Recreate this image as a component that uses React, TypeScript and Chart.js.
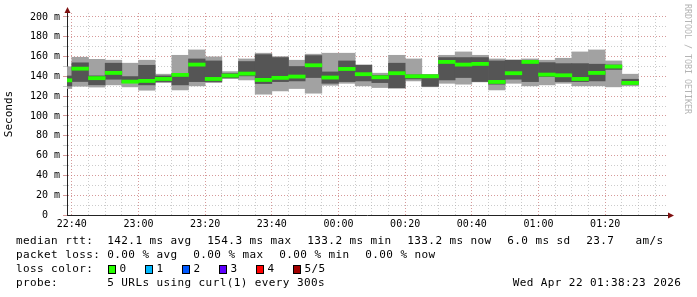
import React, { useEffect, useRef } from "react";
import { Chart, registerables } from "chart.js";

Chart.register(...registerables);

// ---- data (5-minute slots, start times) ----
const slotStarts = [
  "22:35", "22:40", "22:45", "22:50", "22:55", "23:00", "23:05", "23:10", "23:15", "23:20",
  "23:25", "23:30", "23:35", "23:40", "23:45", "23:50", "23:55", "00:00", "00:05",
  "00:10", "00:15", "00:20", "00:25", "00:30", "00:35", "00:40", "00:45", "00:50",
  "00:55", "01:00", "01:05", "01:10", "01:15", "01:20", "01:25",
];
const pingMin = [
  127.7, 130.0, 129.2, 131.4, 129.4, 126.0, 133.7, 126.3, 130.4, 133.7,
  137.8, 136.4, 122.0, 125.3, 127.7, 123.0, 131.0, 133.0, 130.4,
  128.7, 128.0, 135.4, 129.5, 133.0, 132.1, 134.4, 126.3, 133.0,
  130.4, 131.4, 133.0, 130.4, 130.4, 129.4, 130.4,
];
const pingLow = [
  130.3, 134.8, 131.5, 137.1, 133.7, 131.4, 134.7, 131.4, 134.7, 134.7,
  138.5, 140.5, 132.7, 134.7, 135.4, 138.8, 133.0, 134.7, 135.4,
  133.7, 128.5, 137.4, 130.0, 136.4, 138.8, 134.8, 132.1, 137.1,
  134.7, 139.8, 134.7, 134.7, 135.4, 147.0, 132.1,
];
const pingMedian = [
  136.0, 147.8, 138.2, 143.5, 134.7, 135.4, 137.4, 141.5, 151.9, 137.4,
  140.8, 142.8, 136.4, 138.5, 139.8, 151.2, 138.8, 147.5, 142.2,
  139.1, 143.2, 140.1, 140.1, 154.6, 151.9, 152.6, 134.4, 143.2,
  154.6, 141.8, 141.1, 137.4, 143.5, 149.9, 133.4,
];
const pingHigh = [
  140.4, 153.7, 140.5, 153.3, 139.8, 151.2, 140.5, 142.5, 157.6, 155.6,
  142.8, 155.0, 162.0, 159.0, 150.0, 161.0, 144.5, 155.6, 151.2,
  141.1, 153.3, 141.5, 141.5, 159.0, 159.0, 159.0, 155.6, 156.3,
  155.6, 153.9, 152.9, 152.9, 152.3, 151.5, 137.1,
];
const pingMax = [
  149.7, 159.3, 157.2, 156.3, 153.3, 156.3, 142.2, 161.3, 166.7, 159.7,
  144.8, 157.6, 163.4, 160.0, 156.3, 162.4, 163.4, 163.4, 151.6,
  143.2, 161.3, 157.6, 141.8, 161.3, 164.7, 161.3, 157.6, 156.6,
  157.6, 156.3, 158.3, 164.7, 166.7, 155.6, 142.2,
];
const yTickValues = [0, 10, 20, 30, 40, 50, 60, 70, 80, 90, 100, 110, 120, 130, 140, 150, 160, 170, 180, 190, 200];
const xTickTimes = [
  "22:40", "22:45", "22:50", "22:55", "23:00", "23:05", "23:10", "23:15", "23:20", "23:25",
  "23:30", "23:35", "23:40", "23:45", "23:50", "23:55", "00:00", "00:05", "00:10", "00:15",
  "00:20", "00:25", "00:30", "00:35", "00:40", "00:45", "00:50", "00:55", "01:00", "01:05",
  "01:10", "01:15", "01:20", "01:25", "01:30", "01:35",
];
const windowStart = "22:38:33";
const windowEnd = "01:38:33";

const legendRtt = [
  "142.1 ms avg", "154.3 ms max", "133.2 ms min", "133.2 ms now", "6.0 ms sd", "23.7   am/s",
];
const legendLoss = ["0.00 % avg", "0.00 % max", "0.00 % min", "0.00 % now"];
const lossLabels = ["0", "1", "2", "3", "4", "5/5"];
const lossColors = ["#26ff00", "#00b8ff", "#0059ff", "#5e00ff", "#ff0000", "#a00000"];

// ---- helpers ----
function toMin(t: string): number {
  const p = t.split(":").map(Number);
  let m = p[0] * 60 + p[1] + (p[2] || 0) / 60 - 22 * 60;
  if (m < 0) m += 24 * 60;
  return m;
}
function fmt(v: number): string {
  const total = Math.round(v) + 22 * 60;
  const h = Math.floor(total / 60) % 24;
  const m = total % 60;
  return String(h).padStart(2, "0") + ":" + String(m).padStart(2, "0");
}

const FONT = '"DejaVu Sans Mono", monospace';
const MAJOR = "rgba(200,120,120,0.75)";
const MINOR = "rgba(170,170,170,0.6)";
const MEDIAN_HALF = 1.6;

const arrowPlugin = {
  id: "arrows",
  afterDraw(chart: any) {
    const { ctx, chartArea } = chart;
    ctx.save();
    ctx.fillStyle = "#7f1010";
    ctx.beginPath();
    ctx.moveTo(chartArea.left + 0.5, chartArea.top - 6);
    ctx.lineTo(chartArea.left - 2.5, chartArea.top);
    ctx.lineTo(chartArea.left + 3.5, chartArea.top);
    ctx.closePath();
    ctx.fill();
    ctx.beginPath();
    ctx.moveTo(chartArea.right + 7, chartArea.bottom + 0.5);
    ctx.lineTo(chartArea.right + 1, chartArea.bottom - 2.5);
    ctx.lineTo(chartArea.right + 1, chartArea.bottom + 3.5);
    ctx.closePath();
    ctx.fill();
    ctx.restore();
  },
};

export default function App() {
  const ref = useRef<HTMLCanvasElement | null>(null);

  useEffect(() => {
    if (!ref.current) return;
    const xs = slotStarts.map((s) => toMin(s) + 2.5);
    const band = (lo: number[], hi: number[]) => xs.map((x, i) => ({ x, y: [lo[i], hi[i]] }));
    const medBand = xs.map((x, i) => ({ x, y: [pingMedian[i] - MEDIAN_HALF, pingMedian[i] + MEDIAN_HALF] }));
    const common = { barPercentage: 1, categoryPercentage: 1, borderWidth: 0, grouped: false };

    const chart = new Chart(ref.current, {
      type: "bar",
      data: {
        datasets: [
          { ...common, order: 3, label: "range", data: band(pingMin, pingMax) as any, backgroundColor: "#a2a2a2" },
          { ...common, order: 2, label: "inner", data: band(pingLow, pingHigh) as any, backgroundColor: "#555555" },
          { ...common, order: 1, label: "median", data: medBand as any, backgroundColor: lossColors[0] },
        ],
      },
      plugins: [arrowPlugin],
      options: {
        animation: false,
        responsive: false,
        devicePixelRatio: 1,
        layout: { padding: { left: 0, right: 30, top: 13, bottom: 62 } },
        plugins: { legend: { display: false }, tooltip: { enabled: false } },
        scales: {
          x: {
            type: "linear",
            offset: false,
            min: toMin(windowStart),
            max: toMin(windowEnd),
            afterBuildTicks: (scale: any) => {
              scale.ticks = xTickTimes.map((t) => ({ value: toMin(t) }));
            },
            afterFit: (scale: any) => {
              scale.height = 20;
            },
            grid: {
              offset: false,
              drawTicks: false,
              color: (c: any) => (c.tick && Math.round(c.tick.value) % 20 === 0 ? MAJOR : MINOR),
            },
            border: { display: true, color: "#222", width: 1, dash: [1, 2] },
            ticks: {
              autoSkip: false,
              maxRotation: 0,
              padding: 3,
              color: "#000",
              font: { family: FONT, size: 10 },
              callback: (v: any) => (Math.round(Number(v)) % 20 === 0 ? fmt(Number(v)) : ""),
            },
          },
          y: {
            type: "linear",
            min: 0,
            max: 204,
            afterBuildTicks: (scale: any) => {
              scale.ticks = yTickValues.map((v) => ({ value: v }));
            },
            afterFit: (scale: any) => {
              scale.width = 67;
            },
            grid: {
              drawTicks: true,
              tickLength: 4,
              color: (c: any) => (c.tick && c.tick.value % 20 === 0 ? MAJOR : MINOR),
            },
            border: { display: true, color: "#222", width: 1, dash: [1, 2] },
            title: {
              display: true,
              text: "Seconds",
              color: "#000",
              font: { family: FONT, size: 11 },
              padding: { top: 3, bottom: 0 },
            },
            ticks: {
              autoSkip: false,
              padding: 3,
              color: "#000",
              font: { family: FONT, size: 10 },
              callback: (v: any) => {
                const n = Number(v);
                if (n % 20 !== 0) return "";
                return n === 0 ? "0  " : n + " m";
              },
            },
          },
        },
      } as any,
    });
    return () => chart.destroy();
  }, []);

  const txt: React.CSSProperties = {
    position: "absolute",
    fontFamily: FONT,
    fontSize: 11,
    letterSpacing: "0.4px",
    lineHeight: "14px",
    whiteSpace: "pre",
    color: "#000",
  };
  const rttX = [107.3, 207.3, 307.3, 407.3, 507.3, 586.3];
  const lossX = [107.3, 193.3, 279.3, 365.3];
  const boxX = [108, 145, 182, 219, 256, 293];

  return (
    <div style={{ position: "absolute", left: 0, top: 0, width: 697, height: 297, background: "#fff", overflow: "hidden" }}>
      <canvas ref={ref} width={697} height={297} style={{ position: "absolute", left: 0, top: 0, width: 697, height: 297 }} />
      <div
        style={{
          position: "absolute",
          left: 683,
          top: 4,
          width: 10,
          fontFamily: FONT,
          fontSize: 8.3,
          lineHeight: "10px",
          color: "#b4b4b4",
          writingMode: "vertical-rl",
          whiteSpace: "pre",
        }}
      >
        RRDTOOL / TOBI OETIKER
      </div>
      <span style={{ ...txt, left: 16, top: 234 }}>median rtt:</span>
      {legendRtt.map((s, i) => (
        <span key={"r" + i} style={{ ...txt, left: rttX[i], top: 234 }}>{s}</span>
      ))}
      <span style={{ ...txt, left: 16, top: 248 }}>packet loss:</span>
      {legendLoss.map((s, i) => (
        <span key={"l" + i} style={{ ...txt, left: lossX[i], top: 248 }}>{s}</span>
      ))}
      <span style={{ ...txt, left: 16, top: 262 }}>loss color:</span>
      {lossLabels.map((s, i) => (
        <React.Fragment key={"c" + i}>
          <span
            style={{
              position: "absolute",
              left: boxX[i],
              top: 265,
              width: 6,
              height: 7,
              background: lossColors[i],
              border: "1px solid #000",
            }}
          />
          <span style={{ ...txt, left: boxX[i] + 11.5, top: 262 }}>{s}</span>
        </React.Fragment>
      ))}
      <span style={{ ...txt, left: 16, top: 276 }}>probe:</span>
      <span style={{ ...txt, left: 107.3, top: 276 }}>5 URLs using curl(1) every 300s</span>
      <span style={{ ...txt, left: 512.7, top: 276 }}>Wed Apr 22 01:38:23 2026</span>
    </div>
  );
}
